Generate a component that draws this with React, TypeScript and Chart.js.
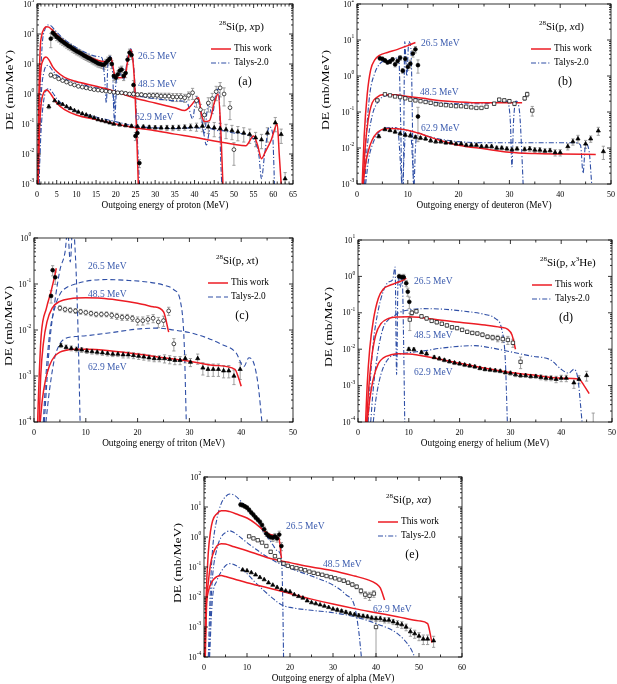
import { useEffect, useRef } from "react";
import { Chart, registerables } from "chart.js";

Chart.register(...registerables);

// each point: [energy (MeV), DE (mb/MeV), relative error]
type Pt = number[];

// ---------- (a) 28Si(p, xp) ----------
const A_EXP_26: Pt[] = [[3.5,70,0.5],[4,110,0.3],[4.5,95,0.25],[5,80,0.25],[5.5,72,0.25],[6,62,0.25],[6.5,56,0.25],[7,50,0.25],[7.5,45,0.25],[8,40,0.25],[8.5,37,0.25],[9,33,0.25],[9.5,30,0.25],[10,27,0.25],[10.5,25,0.25],[11,23,0.25],[11.5,21,0.25],[12,19,0.25],[12.5,17.5,0.25],[13,16,0.25],[13.5,15,0.25],[14,13.5,0.25],[14.5,12.5,0.25],[15,11.5,0.25],[15.5,10.5,0.25],[16,10,0.25],[16.5,9.5,0.25],[17,9.5,0.3],[17.5,11,0.3],[18,13,0.3],[18.5,15,0.3],[19,10,0.3],[19.5,4,0.3],[20,3.5,0.3],[20.5,4.5,0.3],[21,6,0.3],[21.5,6.5,0.3],[22,4,0.3],[22.5,5,0.3],[23,14,0.3],[23.5,24,0.3],[24,20,0.3],[24.5,2,0.4],[25,0.04,0.3],[25.5,0.05,0.3],[26,0.005,0.3]];
const A_EXP_48: Pt[] = [[3.5,4.3,0.15],[4.5,3.8,0.1],[5.5,3.2,0.1],[6.5,2.8,0.1],[7.5,2.5,0.1],[8.5,2.2,0.1],[9.5,2.0,0.1],[10.5,1.8,0.1],[11.5,1.7,0.1],[12.5,1.6,0.1],[13.5,1.5,0.1],[14.5,1.4,0.1],[15.5,1.35,0.1],[16.5,1.3,0.1],[17.5,1.25,0.1],[18.5,1.2,0.1],[19.5,1.15,0.12],[20.5,1.1,0.12],[21.5,1.1,0.12],[22.5,1.05,0.12],[23.5,1.0,0.12],[24.5,1.0,0.15],[25.5,0.95,0.15],[26.5,0.95,0.15],[27.5,0.9,0.15],[28.5,0.9,0.2],[29.5,0.9,0.2],[30.5,0.9,0.2],[31.5,0.85,0.25],[32.5,0.85,0.25],[33.5,0.85,0.25],[34.5,0.8,0.3],[35.5,0.8,0.3],[36.5,0.8,0.3],[37.5,0.75,0.3],[38.5,0.9,0.3],[39.5,1.1,0.4],[40.5,0.6,0.4],[41.5,0.3,0.5],[42.5,0.2,0.5],[43.5,0.5,0.5],[44.5,0.7,0.5],[45.5,1.2,0.5],[46.5,1.6,0.5],[47.5,1.0,0.6],[49,0.35,0.6],[50,0.014,0.7]];
const A_EXP_62: Pt[] = [[3,0.38,0.15],[4.5,0.6,0.1],[5.5,0.5,0.1],[6.5,0.45,0.1],[7.5,0.38,0.1],[8.5,0.33,0.1],[9.5,0.28,0.1],[10.5,0.25,0.1],[11.5,0.22,0.1],[12.5,0.2,0.1],[13.5,0.18,0.1],[14.5,0.16,0.1],[15.5,0.14,0.1],[16.5,0.13,0.1],[17.5,0.12,0.1],[18.5,0.11,0.1],[19.5,0.1,0.1],[21,0.095,0.12],[22.5,0.09,0.12],[24,0.085,0.12],[25.5,0.082,0.12],[27,0.08,0.15],[28.5,0.078,0.15],[30,0.076,0.15],[31.5,0.075,0.15],[33,0.075,0.2],[34.5,0.075,0.2],[36,0.076,0.2],[37.5,0.078,0.2],[39,0.08,0.25],[40.5,0.082,0.3],[42,0.085,0.35],[43.5,0.08,0.4],[45,0.075,0.5],[46.5,0.07,0.5],[48,0.065,0.5],[49.5,0.06,0.5],[51,0.055,0.5],[52.5,0.05,0.5],[54,0.045,0.5],[55.5,0.035,0.5],[57,0.03,0.5],[58.5,0.05,0.5],[60.5,0.11,0.5],[62,0.045,0.5],[63,0.0015,0.6]];
const A_RED_26: Pt[] = [[0.25,0.001],[0.5,1],[0.8,30],[1.2,90],[1.8,150],[2.5,175],[3,170],[4,130],[5,95],[7,55],[10,29],[13,18],[15,14],[17,12],[18,13],[18.8,16],[19.3,8],[19.8,4],[21,3.5],[22.3,3.6],[23,12],[23.8,30],[24.3,15],[24.8,2],[25.3,0.05],[25.8,0.0005]];
const A_BLUE_26: Pt[] = [[0.4,0.001],[0.8,1],[1.3,40],[2,140],[2.8,200],[3.5,190],[5,115],[7,65],[10,35],[13,22],[15,18],[16.5,16],[17.2,3],[17.6,0.5],[18,10],[18.6,18],[19.2,5],[19.6,0.3],[20,2],[21,5],[22,3],[23,15],[23.8,32],[24.5,10],[25,1],[25.5,0.03],[26,0.001]];
const A_RED_48: Pt[] = [[0.25,0.001],[0.5,0.3],[0.9,5],[1.5,13],[2.3,17],[3,14],[4,8],[5,5.6],[7,3.6],[10,2.6],[15,1.8],[20,1.2],[25,0.72],[30,0.5],[35,0.35],[37.5,0.28],[39,0.4],[41,0.75],[41.8,0.2],[42.5,0.12],[43.8,0.13],[45,0.5],[46,1.0],[46.6,0.1],[47.2,0.001]];
const A_BLUE_48: Pt[] = [[0.5,0.001],[1,0.5],[1.7,5],[2.8,9],[4,6],[5,4.3],[7,3.2],[10,2.5],[15,1.6],[19.2,1.2],[19.7,0.12],[20.2,1.2],[25,0.9],[30,0.7],[35,0.6],[38,0.55],[39.5,0.15],[40.5,0.8],[41.5,0.3],[42.5,0.05],[43.5,0.5],[44.5,0.2],[45.5,1.2],[46.2,1.5],[46.6,0.01],[46.9,0.001]];
const A_RED_62: Pt[] = [[0.3,0.001],[0.6,0.05],[1,0.4],[1.7,1.1],[2.5,1.35],[3.5,1.0],[5,0.5],[7,0.3],[10,0.2],[15,0.14],[20,0.1],[25,0.075],[30,0.06],[35,0.046],[40,0.036],[45,0.027],[50,0.021],[53,0.019],[55,0.04],[56,0.02],[57,0.007],[58,0.012],[59.5,0.03],[61,0.1],[61.5,0.01],[62,0.001]];
const A_BLUE_62: Pt[] = [[0.5,0.001],[1,0.05],[1.7,0.6],[3,1.5],[4,1.1],[5,0.7],[7,0.4],[10,0.27],[15,0.17],[20,0.12],[25,0.085],[30,0.075],[35,0.07],[40,0.075],[42,0.07],[43,0.02],[44,0.07],[46,0.06],[47,0.06],[50,0.05],[53,0.045],[55,0.03],[56.3,0.01],[57,0.0015],[57.8,0.01],[59,0.08],[59.8,0.05],[60.3,0.001]];

// ---------- (b) 28Si(p, xd) ----------
const B_EXP_26: Pt[] = [[4.5,3.1,0.1],[5,3.0,0.1],[5.5,2.7,0.12],[6,2.4,0.12],[6.5,2.5,0.12],[7,2.9,0.12],[7.5,2.1,0.15],[8,2.6,0.12],[8.5,3.2,0.15],[9,1.4,0.15],[9.5,3.0,0.15],[10,1.8,0.2],[10.5,2.2,0.25],[11,4.2,0.2],[11.5,5.5,0.2],[12,2.0,0.4],[12,0.075,0.8]];
const B_EXP_48: Pt[] = [[4,0.21,0.08],[5.5,0.31,0.08],[6.5,0.29,0.08],[7.5,0.27,0.08],[8.5,0.26,0.08],[9.5,0.24,0.08],[10.5,0.22,0.08],[11.5,0.21,0.08],[12.5,0.2,0.08],[13.5,0.19,0.08],[14.5,0.18,0.08],[15.5,0.165,0.08],[16.5,0.16,0.08],[17.5,0.155,0.08],[18.5,0.15,0.08],[19.5,0.145,0.08],[20.5,0.145,0.08],[21.5,0.14,0.08],[22.5,0.135,0.08],[23.5,0.13,0.08],[24.5,0.13,0.08],[25.5,0.14,0.08],[27,0.17,0.1],[28,0.22,0.1],[29,0.21,0.1],[30,0.2,0.1],[31,0.17,0.12],[33,0.24,0.12],[33.5,0.31,0.15],[34.5,0.11,0.3]];
const B_EXP_62: Pt[] = [[4.3,0.021,0.1],[5.5,0.033,0.1],[6.5,0.031,0.1],[7.5,0.028,0.1],[8.5,0.025,0.1],[9.5,0.023,0.1],[10.5,0.022,0.1],[11.5,0.02,0.1],[12.5,0.019,0.1],[13.5,0.018,0.1],[14.5,0.016,0.1],[15.5,0.015,0.1],[16.5,0.015,0.1],[17.5,0.014,0.1],[18.5,0.014,0.1],[19.5,0.013,0.1],[20.5,0.013,0.1],[21.5,0.012,0.1],[22.5,0.012,0.1],[23.5,0.012,0.1],[24.5,0.011,0.1],[25.5,0.011,0.1],[26.5,0.011,0.1],[27.5,0.01,0.12],[28.5,0.01,0.12],[29.5,0.0095,0.12],[30.5,0.009,0.12],[31.5,0.0095,0.12],[33,0.0092,0.15],[34,0.0095,0.15],[35,0.0088,0.15],[36,0.0088,0.15],[37,0.0082,0.15],[38,0.0085,0.15],[39,0.0075,0.2],[40,0.0075,0.2],[41.5,0.011,0.2],[42.5,0.015,0.2],[43.5,0.018,0.25],[45,0.013,0.25],[46,0.018,0.2],[47.5,0.03,0.25],[48.5,0.008,0.4]];
const B_RED_26: Pt[] = [[1,0.0008],[1.4,0.02],[2,0.3],[2.7,1.5],[3.5,2.8],[4.5,3.8],[6,4.5],[8,5.5],[10,7],[11.5,8.5]];
const B_BLUE_26: Pt[] = [[1.3,0.001],[1.8,0.02],[2.5,0.3],[3.5,1.2],[4.5,2.2],[6,2.8],[7.5,3],[8.2,3.5],[8.6,0.05],[8.85,0.0008],[9.1,0.001],[9.4,9],[9.8,1],[10.2,9],[10.6,6],[11.1,0.001]];
const B_RED_48: Pt[] = [[1.2,0.001],[1.6,0.01],[2.2,0.06],[3,0.18],[4,0.26],[5,0.3],[7,0.3],[10,0.27],[13,0.24],[16,0.21],[20,0.19],[25,0.18],[30,0.18],[32.5,0.18]];
const B_BLUE_48: Pt[] = [[1.5,0.001],[2,0.01],[3,0.08],[4,0.18],[5.5,0.28],[7.5,0.3],[9,0.28],[10,0.26],[12,0.23],[15,0.19],[20,0.17],[25,0.17],[28,0.19],[29.5,0.2],[30.2,0.05],[30.5,0.003],[30.8,0.05],[31.3,0.2],[32,0.1],[32.4,0.01],[32.7,0.001]];
const B_RED_62: Pt[] = [[1.2,0.001],[1.6,0.003],[2.2,0.008],[3,0.017],[4,0.027],[5,0.033],[6.5,0.035],[8,0.034],[10,0.031],[12,0.026],[14,0.021],[16,0.017],[18,0.014],[20,0.012],[25,0.0095],[30,0.0076],[35,0.007],[40,0.0068],[47,0.0066]];
const B_BLUE_62: Pt[] = [[1.7,0.001],[2.3,0.005],[3,0.012],[4,0.024],[5.5,0.035],[7,0.037],[8,0.035],[8.6,0.003],[8.9,0.0008],[9.2,0.004],[9.6,0.03],[10.5,0.03],[11,0.003],[11.2,0.0008],[11.5,0.01],[12,0.026],[14,0.021],[16,0.018],[20,0.015],[25,0.014],[30,0.014],[35,0.014],[40,0.014],[43,0.014],[44,0.012],[44.5,0.002],[45,0.013],[45.7,0.008],[46.2,0.001]];

// ---------- (c) 28Si(p, xt) ----------
const C_EXP_26: Pt[] = [[3.3,0.055,0.3],[3.6,0.2,0.25],[4.1,0.14,0.3]];
const C_EXP_48: Pt[] = [[5,0.03,0.12],[6,0.028,0.12],[7,0.027,0.12],[8,0.026,0.12],[9,0.025,0.12],[10,0.024,0.12],[11,0.023,0.12],[12,0.022,0.12],[13,0.022,0.12],[14,0.022,0.12],[15,0.021,0.15],[16,0.02,0.15],[17,0.019,0.15],[18,0.019,0.15],[19,0.018,0.15],[20,0.016,0.2],[21,0.016,0.2],[22,0.017,0.2],[23,0.018,0.2],[24,0.015,0.25],[25,0.016,0.25],[26,0.026,0.2],[27,0.005,0.3]];
const C_EXP_62: Pt[] = [[5.2,0.0046,0.1],[6.2,0.0042,0.12],[7.2,0.004,0.12],[8.2,0.0038,0.12],[9.2,0.0037,0.12],[10.2,0.0035,0.12],[11.2,0.0034,0.12],[12.2,0.0033,0.12],[13.2,0.0032,0.12],[14.2,0.0031,0.12],[15.2,0.003,0.12],[16.2,0.003,0.12],[17.2,0.0029,0.15],[18.2,0.0029,0.15],[19.2,0.0028,0.15],[20.2,0.0027,0.15],[21.2,0.0026,0.15],[22.2,0.0025,0.15],[23.2,0.0024,0.15],[24.2,0.0024,0.15],[25.2,0.0024,0.2],[26.2,0.0023,0.2],[27.2,0.0022,0.2],[28.2,0.0022,0.2],[29.2,0.0024,0.2],[30.2,0.002,0.2],[31.6,0.0024,0.25],[32.6,0.0015,0.3],[33.6,0.0014,0.3],[34.6,0.0014,0.3],[35.6,0.0014,0.3],[36.6,0.0013,0.3],[37.6,0.0013,0.3],[38.6,0.001,0.35],[39.8,0.0014,0.4]];
const C_RED_26: Pt[] = [[0.7,0.0001],[1.0,0.001],[1.4,0.008],[2.4,0.03],[3.3,0.07],[4.0,0.15],[4.3,0.22]];
const C_BLUE_26: Pt[] = [[2,0.0001],[2.5,0.0008],[3,0.005],[4,0.04],[5,0.2],[6,0.5],[6.5,1.5],[7,0.3],[7.5,2],[8,0.4],[8.5,0.01],[8.9,0.0001]];
const C_RED_48: Pt[] = [[1,0.0001],[1.3,0.001],[1.8,0.005],[2.5,0.015],[3.5,0.03],[5,0.042],[7,0.048],[10,0.05],[13,0.049],[16,0.045],[20,0.038],[23,0.032],[25,0.025],[26,0.009]];
const C_BLUE_48: Pt[] = [[1.8,0.0001],[2.3,0.001],[3,0.008],[4,0.03],[5,0.06],[6,0.08],[8,0.1],[10,0.115],[14,0.125],[18,0.12],[22,0.11],[25,0.095],[27,0.075],[28.3,0.04],[29,0.005],[29.4,0.0001]];
const C_RED_62: Pt[] = [[1.2,0.0001],[1.6,0.0003],[2.2,0.0008],[3,0.0017],[4,0.0027],[5,0.0033],[6,0.0036],[8,0.0038],[10,0.0038],[15,0.0035],[20,0.003],[25,0.0025],[30,0.0021],[35,0.0017],[38.8,0.0014],[39.5,0.0009],[40,0.0006]];
const C_BLUE_62: Pt[] = [[2.3,0.0001],[3,0.0005],[4,0.0025],[5,0.005],[6,0.0065],[8,0.0072],[10,0.0075],[15,0.0088],[20,0.0105],[24,0.011],[27,0.01],[30,0.0088],[33,0.007],[36,0.005],[39,0.0032],[40.5,0.0016],[41.5,0.0025],[42.5,0.0018],[43.3,0.0006],[44,0.0001]];

// ---------- (d) 28Si(p, x3He) ----------
const D_EXP_26: Pt[] = [[8.1,1.0,0.15],[8.6,0.95,0.15],[9,0.95,0.2],[9.5,0.65,0.2],[9.8,0.38,0.25],[10.1,0.2,0.35]];
const D_EXP_48: Pt[] = [[10.2,0.065,0.5],[10.6,0.1,0.15],[11.5,0.11,0.1],[12.5,0.08,0.1],[13.5,0.07,0.1],[14.5,0.06,0.1],[15.5,0.055,0.1],[16.5,0.05,0.1],[17.5,0.045,0.1],[18.5,0.04,0.1],[19.5,0.038,0.1],[20.5,0.034,0.1],[21.5,0.03,0.1],[22.5,0.028,0.1],[23.5,0.027,0.1],[24.5,0.025,0.12],[25.5,0.022,0.12],[26.5,0.021,0.15],[27.5,0.02,0.2],[28.5,0.019,0.2],[29.5,0.018,0.25],[30.5,0.015,0.25],[32,0.0045,0.35]];
const D_EXP_62: Pt[] = [[10,0.01,0.1],[11,0.0098,0.1],[12.5,0.0082,0.1],[13.5,0.0075,0.1],[15,0.006,0.1],[16,0.0055,0.1],[17,0.005,0.1],[18,0.0046,0.1],[19,0.0042,0.1],[20,0.004,0.1],[21,0.0037,0.1],[22,0.0035,0.1],[23,0.0033,0.1],[24,0.003,0.1],[25,0.0028,0.1],[26,0.0027,0.1],[27,0.0026,0.1],[28,0.0025,0.1],[29,0.0023,0.1],[30,0.0022,0.12],[31,0.002,0.12],[32,0.0019,0.12],[33,0.0019,0.12],[34,0.0018,0.12],[35,0.0018,0.12],[36,0.0017,0.15],[37,0.0016,0.15],[38,0.0016,0.15],[39,0.0015,0.2],[40,0.0016,0.2],[41,0.0016,0.2],[42.5,0.0012,0.3],[43.5,0.0015,0.25],[45,0.0019,0.3],[46.3,0.00008,1.2]];
const D_RED_26: Pt[] = [[1.5,0.0001],[1.8,0.001],[2.3,0.01],[3,0.06],[4,0.25],[5,0.45],[6,0.55],[7,0.62],[8,0.7],[9,0.8],[9.5,0.9]];
const D_BLUE_26: Pt[] = [[2,0.0001],[2.5,0.002],[3,0.015],[4,0.12],[5,0.4],[6,0.7],[6.8,0.8],[7.3,1.8],[7.6,0.002],[7.9,1.0],[8.3,0.5],[8.7,0.9],[9.0,0.01],[9.2,0.0001]];
const D_RED_48: Pt[] = [[1.7,0.0001],[2.1,0.0008],[2.7,0.006],[3.5,0.025],[4.5,0.05],[6,0.07],[8,0.077],[10,0.078],[12,0.075],[15,0.066],[20,0.055],[25,0.046],[28,0.04],[29.5,0.035],[30.3,0.025],[31,0.01]];
const D_BLUE_48: Pt[] = [[2.5,0.0001],[3,0.0008],[4,0.01],[5,0.04],[6,0.065],[7,0.08],[8,0.1],[10,0.12],[13,0.13],[17,0.125],[21,0.11],[25,0.09],[27,0.07],[28.3,0.035],[29,0.005],[29.4,0.0001]];
const D_RED_62: Pt[] = [[1.8,0.0001],[2.3,0.0004],[3,0.0015],[4,0.004],[5,0.0058],[6.5,0.007],[8,0.0075],[10,0.0074],[12,0.0068],[15,0.0057],[20,0.0041],[25,0.003],[30,0.0023],[35,0.0019],[40,0.0016],[43.5,0.0015],[44.5,0.001],[45.5,0.0006]];
const D_BLUE_62: Pt[] = [[3,0.0001],[3.5,0.0004],[4.5,0.002],[6,0.0055],[8,0.0072],[10,0.008],[13,0.009],[16,0.0105],[20,0.012],[23,0.0125],[26,0.011],[30,0.0085],[34,0.0065],[38,0.005],[40,0.0028],[41.5,0.0022],[42.5,0.0028],[43.3,0.0015],[43.8,0.0003],[44.1,0.0001]];

// ---------- (e) 28Si(p, xα) ----------
const E_EXP_26: Pt[] = [[8.5,12,0.15],[9,11.5,0.15],[9.5,10.5,0.15],[10,9.5,0.15],[10.5,8,0.15],[11,6.5,0.15],[11.5,5.5,0.15],[12,4.5,0.15],[12.5,3.8,0.15],[13,3.2,0.15],[13.5,2.5,0.15],[14,1.8,0.2],[14.5,1.3,0.2],[15,1.1,0.2],[15.5,1.0,0.2],[16,0.95,0.25],[16.5,1.05,0.25],[17,0.9,0.25],[17.5,1.2,0.3],[18,0.5,0.3]];
const E_EXP_48: Pt[] = [[10.5,1.05,0.1],[11.5,0.9,0.1],[12.5,0.78,0.1],[13.5,0.65,0.1],[14.5,0.5,0.1],[15.5,0.32,0.12],[16.5,0.23,0.12],[17.5,0.17,0.12],[18.5,0.13,0.12],[19.5,0.11,0.1],[20.5,0.098,0.1],[21.5,0.092,0.1],[22.5,0.085,0.1],[23.5,0.078,0.1],[24.5,0.07,0.1],[25.5,0.064,0.1],[26.5,0.059,0.1],[27.5,0.055,0.1],[28.5,0.05,0.1],[29.5,0.046,0.1],[30.5,0.042,0.1],[31.5,0.038,0.1],[32.5,0.035,0.12],[33.5,0.03,0.12],[34.5,0.026,0.15],[35.5,0.022,0.15],[36.5,0.016,0.2],[37.5,0.012,0.25],[38.5,0.011,0.3],[39.5,0.013,0.25],[40,0.001,0.9]];
const E_EXP_62: Pt[] = [[9,0.08,0.1],[10,0.075,0.1],[11,0.065,0.1],[12,0.055,0.1],[13,0.045,0.1],[14,0.038,0.1],[15,0.03,0.1],[16,0.025,0.1],[17,0.021,0.1],[18,0.018,0.1],[19,0.016,0.1],[20,0.015,0.1],[21,0.012,0.1],[22,0.0105,0.1],[23,0.0093,0.1],[24,0.0075,0.1],[25,0.0065,0.1],[26,0.006,0.1],[27,0.0055,0.1],[28,0.005,0.1],[29,0.0045,0.1],[30,0.004,0.1],[31,0.0037,0.12],[32,0.0034,0.12],[33,0.0031,0.12],[34,0.0028,0.12],[35,0.0026,0.12],[36,0.0024,0.15],[37,0.0023,0.15],[38,0.0022,0.15],[39,0.002,0.15],[40,0.0019,0.2],[41,0.0019,0.2],[42,0.0017,0.2],[43,0.0017,0.2],[44,0.0015,0.2],[45,0.0013,0.25],[46,0.0012,0.25],[47,0.001,0.25],[48,0.0007,0.3],[49,0.0006,0.3],[50,0.0005,0.3],[51,0.0004,0.35],[52,0.0004,0.35],[53.4,0.00035,0.4]];
const E_RED_26: Pt[] = [[0.2,0.0001],[0.5,0.01],[1,0.3],[1.5,1.5],[2,3.5],[3,6],[4,7.5],[5,7.5],[6,7],[8,5.5],[10,4.3],[12,2.8],[14,1.6],[15,1.3],[16,1.15],[17,1.0],[17.5,0.8],[18,0.2]];
const E_BLUE_26: Pt[] = [[1,0.0001],[1.5,0.02],[2,0.4],[3,4],[4,13],[5,22],[6,27],[7,25],[8,19],[10,9],[12,4.5],[13,2.5],[14,1.3],[15,0.9],[16,0.55],[17,0.35],[18,0.2],[18.3,0.01],[18.5,0.0001]];
const E_RED_48: Pt[] = [[0.2,0.0001],[0.5,0.005],[1,0.03],[1.5,0.12],[2,0.25],[3,0.5],[4,0.6],[5,0.58],[7,0.47],[10,0.35],[13,0.25],[15,0.2],[18,0.16],[20,0.14],[25,0.1],[30,0.075],[35,0.05],[38,0.038],[40,0.028],[41,0.02],[42,0.008]];
const E_BLUE_48: Pt[] = [[1.2,0.0001],[1.6,0.005],[2,0.05],[3,0.4],[4,1.0],[5,1.4],[6,1.6],[7,1.4],[8,1.1],[10,0.65],[12,0.4],[14,0.25],[16,0.17],[18,0.12],[20,0.09],[25,0.05],[30,0.025],[33,0.012],[35,0.005],[36,0.0007],[36.6,0.0001]];
const E_RED_62: Pt[] = [[0.3,0.0001],[0.6,0.005],[1,0.015],[2,0.035],[3,0.048],[4,0.052],[5,0.048],[7,0.04],[10,0.03],[15,0.02],[20,0.013],[25,0.0085],[30,0.0058],[35,0.0041],[40,0.003],[45,0.0022],[50,0.0016],[52,0.0013],[52.6,0.0006],[53,0.0003]];
const E_BLUE_62: Pt[] = [[1.3,0.0001],[1.7,0.002],[2,0.01],[3,0.035],[4,0.07],[5,0.11],[6,0.13],[7,0.12],[8,0.1],[10,0.06],[12,0.03],[14,0.016],[16,0.009],[18,0.0055],[20,0.0045],[25,0.0036],[30,0.003],[35,0.0022],[40,0.0013],[45,0.0006],[48,0.0002],[49,0.0001]];

const ENERGIES = ["26.5 MeV", "48.5 MeV", "62.9 MeV"];

const RED = "#ec1c24";
const BLUE = "#2f4fa6";
const LABEL_BLUE = "#3c5cae";
const ERR_GREY = "#959595";
const FONT = "'Liberation Serif', 'Times New Roman', serif";

// room around the plot box inside each canvas
const PAD_L = 44;
const PAD_T = 8;
const PAD_R = 10;
const PAD_B = 30;

type Seg = { t: string; sup?: boolean; it?: boolean };
type Marker = "dot" | "ring" | "square" | "tri";

interface PanelCfg {
  box: number[]; // plot box on the page: left, top, right, bottom
  xMax: number;
  xStep: number;
  xMinor: number;
  yMinExp: number;
  yMaxExp: number;
  xTitle: string;
  reaction: Seg[];
  letter: string;
  exp: Pt[][];
  red: Pt[][];
  blue: Pt[][];
  markers: Marker[];
  talysDash: number[];
  labelPos: number[][];
  yTitleDx: number;
}

const DASH_DOT = [5, 2, 1.2, 2];

const PANELS: PanelCfg[] = [
  {
    box: [37, 4, 293, 184], xMax: 65, xStep: 5, xMinor: 1, yMinExp: -3, yMaxExp: 3,
    xTitle: "Outgoing energy of proton (MeV)",
    reaction: [{ t: "28", sup: true }, { t: "Si(p, " }, { t: "x", it: true }, { t: "p)" }],
    letter: "(a)",
    exp: [A_EXP_26, A_EXP_48, A_EXP_62], red: [A_RED_26, A_RED_48, A_RED_62], blue: [A_BLUE_26, A_BLUE_48, A_BLUE_62],
    markers: ["dot", "ring", "tri"], talysDash: DASH_DOT,
    labelPos: [[101, 52], [101, 80], [98, 113]], yTitleDx: -27,
  },
  {
    box: [357, 4, 611, 184], xMax: 50, xStep: 10, xMinor: 5, yMinExp: -3, yMaxExp: 2,
    xTitle: "Outgoing energy of deuteron (MeV)",
    reaction: [{ t: "28", sup: true }, { t: "Si(p, " }, { t: "x", it: true }, { t: "d)" }],
    letter: "(b)",
    exp: [B_EXP_26, B_EXP_48, B_EXP_62], red: [B_RED_26, B_RED_48, B_RED_62], blue: [B_BLUE_26, B_BLUE_48, B_BLUE_62],
    markers: ["dot", "square", "tri"], talysDash: DASH_DOT,
    labelPos: [[64, 39], [63, 88], [64, 124]], yTitleDx: -31,
  },
  {
    box: [34, 238, 293, 422], xMax: 50, xStep: 10, xMinor: 5, yMinExp: -4, yMaxExp: 0,
    xTitle: "Outgoing energy of triton (MeV)",
    reaction: [{ t: "28", sup: true }, { t: "Si(p, " }, { t: "x", it: true }, { t: "t)" }],
    letter: "(c)",
    exp: [C_EXP_26, C_EXP_48, C_EXP_62], red: [C_RED_26, C_RED_48, C_RED_62], blue: [C_BLUE_26, C_BLUE_48, C_BLUE_62],
    markers: ["dot", "ring", "tri"], talysDash: [5, 3],
    labelPos: [[54, 28], [54, 56], [54, 129]], yTitleDx: -25,
  },
  {
    box: [358, 240, 612, 422], xMax: 50, xStep: 10, xMinor: 5, yMinExp: -4, yMaxExp: 1,
    xTitle: "Outgoing energy of helium (MeV)",
    reaction: [{ t: "28", sup: true }, { t: "Si(p, " }, { t: "x", it: true }, { t: "3", sup: true }, { t: "He)" }],
    letter: "(d)",
    exp: [D_EXP_26, D_EXP_48, D_EXP_62], red: [D_RED_26, D_RED_48, D_RED_62], blue: [D_BLUE_26, D_BLUE_48, D_BLUE_62],
    markers: ["dot", "square", "tri"], talysDash: DASH_DOT,
    labelPos: [[56, 41], [56, 95], [56, 132]], yTitleDx: -29,
  },
  {
    box: [204, 477, 462, 657], xMax: 60, xStep: 10, xMinor: 5, yMinExp: -4, yMaxExp: 2,
    xTitle: "Outgoing energy of alpha (MeV)",
    reaction: [{ t: "28", sup: true }, { t: "Si(p, " }, { t: "x\u03b1", it: true }, { t: ")" }],
    letter: "(e)",
    exp: [E_EXP_26, E_EXP_48, E_EXP_62], red: [E_RED_26, E_RED_48, E_RED_62], blue: [E_BLUE_26, E_BLUE_48, E_BLUE_62],
    markers: ["dot", "square", "tri"], talysDash: DASH_DOT,
    labelPos: [[82, 49], [119, 87], [169, 132]], yTitleDx: -26,
  },
];

function markerStyle(m: Marker) {
  const filled = m === "dot" || m === "tri";
  return {
    pointStyle: m === "square" ? "rect" : m === "tri" ? "triangle" : "circle",
    pointRadius: m === "tri" ? 2.4 : m === "square" ? 2.4 : 1.9,
    pointBackgroundColor: filled ? "#000" : "#fff",
    pointBorderColor: "#000",
    pointBorderWidth: 0.7,
  };
}

function toXY(p: Pt[]) {
  return p.map(([x, y]) => ({ x, y }));
}

function drawPow(ctx: CanvasRenderingContext2D, e: number, xr: number, y: number) {
  ctx.font = `8px ${FONT}`;
  const wb = ctx.measureText("10").width;
  ctx.font = `5.5px ${FONT}`;
  const es = String(e);
  const we = ctx.measureText(es).width;
  const x0 = xr - wb - we;
  ctx.textAlign = "left";
  ctx.textBaseline = "middle";
  ctx.font = `8px ${FONT}`;
  ctx.fillText("10", x0, y + 0.5);
  ctx.font = `5.5px ${FONT}`;
  ctx.fillText(es, x0 + wb + 0.3, y - 3);
}

function drawReaction(ctx: CanvasRenderingContext2D, segs: Seg[], x: number, y: number) {
  let cx = x;
  ctx.textAlign = "left";
  ctx.textBaseline = "middle";
  ctx.fillStyle = "#000";
  for (const s of segs) {
    const size = s.sup ? 7 : 11;
    ctx.font = `${s.it ? "italic " : ""}${size}px ${FONT}`;
    ctx.fillText(s.t, cx, s.sup ? y - 4 : y);
    cx += ctx.measureText(s.t).width;
  }
}

function Panel({ cfg }: { cfg: PanelCfg }) {
  const ref = useRef<HTMLCanvasElement | null>(null);
  const [l, t, r, b] = cfg.box;

  useEffect(() => {
    if (!ref.current) return;

    const deco = {
      id: "deco",
      beforeDatasetsDraw(chart: any) {
        const { ctx, chartArea: ca } = chart;
        const xs = chart.scales.x;
        const ys = chart.scales.y;
        ctx.save();
        ctx.beginPath();
        ctx.rect(ca.left, ca.top, ca.right - ca.left, ca.bottom - ca.top);
        ctx.clip();
        ctx.strokeStyle = ERR_GREY;
        ctx.lineWidth = 0.9;
        cfg.exp.forEach((series) =>
          series.forEach(([x, y, e]) => {
            const px = xs.getPixelForValue(x);
            const hi = ys.getPixelForValue(y * (1 + e));
            const lo = e >= 1 ? ca.bottom + 5 : ys.getPixelForValue(y * (1 - e));
            if (lo - hi < 3) return;
            ctx.beginPath();
            ctx.moveTo(px, lo);
            ctx.lineTo(px, hi);
            ctx.moveTo(px - 1.6, lo);
            ctx.lineTo(px + 1.6, lo);
            ctx.moveTo(px - 1.6, hi);
            ctx.lineTo(px + 1.6, hi);
            ctx.stroke();
          })
        );
        ctx.restore();
      },
      afterDraw(chart: any) {
        const { ctx, chartArea: ca } = chart;
        const xs = chart.scales.x;
        const ys = chart.scales.y;
        ctx.save();
        // frame and inward ticks
        ctx.strokeStyle = "#000";
        ctx.lineWidth = 0.8;
        ctx.strokeRect(ca.left, ca.top, ca.right - ca.left, ca.bottom - ca.top);
        ctx.beginPath();
        for (let v = 0; v <= cfg.xMax + 1e-9; v += cfg.xMinor) {
          const px = xs.getPixelForValue(v);
          const q = v / cfg.xStep;
          const len = Math.abs(q - Math.round(q)) < 1e-6 ? 4 : 2.5;
          ctx.moveTo(px, ca.bottom);
          ctx.lineTo(px, ca.bottom - len);
          ctx.moveTo(px, ca.top);
          ctx.lineTo(px, ca.top + len);
        }
        for (let e = cfg.yMinExp; e <= cfg.yMaxExp; e++) {
          for (let k = 1; k <= 9; k++) {
            if (e === cfg.yMaxExp && k > 1) break;
            const py = ys.getPixelForValue(k * Math.pow(10, e));
            const len = k === 1 ? 4 : 2;
            ctx.moveTo(ca.left, py);
            ctx.lineTo(ca.left + len, py);
            ctx.moveTo(ca.right, py);
            ctx.lineTo(ca.right - len, py);
          }
        }
        ctx.stroke();

        // tick labels
        ctx.fillStyle = "#000";
        ctx.font = `8px ${FONT}`;
        ctx.textAlign = "center";
        ctx.textBaseline = "top";
        for (let v = 0; v <= cfg.xMax + 1e-9; v += cfg.xStep) {
          ctx.fillText(String(v), xs.getPixelForValue(v), ca.bottom + 7);
        }
        for (let e = cfg.yMinExp; e <= cfg.yMaxExp; e++) {
          drawPow(ctx, e, ca.left - 3, ys.getPixelForValue(Math.pow(10, e)));
        }

        // axis titles
        ctx.font = `9.3px ${FONT}`;
        ctx.textAlign = "center";
        ctx.textBaseline = "middle";
        ctx.fillText(cfg.xTitle, (ca.left + ca.right) / 2, ca.bottom + 22);
        ctx.save();
        ctx.translate(ca.left + cfg.yTitleDx, (ca.top + ca.bottom) / 2 - 4);
        ctx.rotate(-Math.PI / 2);
        ctx.font = `11px ${FONT}`;
        const tw = ctx.measureText("DE (mb/MeV)").width;
        ctx.scale(80 / tw, 1);
        ctx.fillText("DE (mb/MeV)", 0, 0);
        ctx.restore();

        // reaction, legend and panel letter
        drawReaction(ctx, cfg.reaction, ca.left + 182, ca.top + 23);
        const lx = ca.left + 174;
        const ly = ca.top + 45;
        ctx.lineWidth = 1.5;
        ctx.strokeStyle = RED;
        ctx.setLineDash([]);
        ctx.beginPath();
        ctx.moveTo(lx, ly);
        ctx.lineTo(lx + 20, ly);
        ctx.stroke();
        ctx.lineWidth = 1.1;
        ctx.strokeStyle = BLUE;
        ctx.setLineDash(cfg.talysDash);
        ctx.beginPath();
        ctx.moveTo(lx, ly + 14);
        ctx.lineTo(lx + 20, ly + 14);
        ctx.stroke();
        ctx.setLineDash([]);
        ctx.fillStyle = "#000";
        ctx.font = `9.3px ${FONT}`;
        ctx.textAlign = "left";
        ctx.fillText("This work", lx + 23, ly);
        ctx.fillText("Talys-2.0", lx + 23, ly + 14);
        ctx.font = `12px ${FONT}`;
        ctx.textAlign = "center";
        ctx.fillText(cfg.letter, ca.left + 208, ca.top + 78);

        // incident-energy labels
        ctx.fillStyle = LABEL_BLUE;
        ctx.font = `9.5px ${FONT}`;
        ctx.textAlign = "left";
        cfg.labelPos.forEach(([dx, dy], i) => {
          ctx.fillText(ENERGIES[i], ca.left + dx, ca.top + dy);
        });
        ctx.restore();
      },
    };

    const datasets: any[] = [];
    cfg.exp.forEach((s, i) =>
      datasets.push({ data: toXY(s), showLine: false, order: 0, ...markerStyle(cfg.markers[i]) })
    );
    cfg.red.forEach((s) =>
      datasets.push({
        data: toXY(s), showLine: true, order: 1, pointRadius: 0, borderColor: RED, borderWidth: 1.5,
        cubicInterpolationMode: "monotone",
      })
    );
    cfg.blue.forEach((s) =>
      datasets.push({
        data: toXY(s), showLine: true, order: 2, pointRadius: 0, borderColor: BLUE, borderWidth: 1.1,
        borderDash: cfg.talysDash, cubicInterpolationMode: "monotone",
      })
    );

    const chart = new Chart(ref.current, {
      type: "scatter",
      data: { datasets },
      options: {
        animation: false,
        responsive: true,
        maintainAspectRatio: false,
        layout: { padding: { left: PAD_L, top: PAD_T, right: PAD_R, bottom: PAD_B } },
        plugins: { legend: { display: false }, tooltip: { enabled: false } },
        events: [],
        scales: {
          x: { type: "linear", min: 0, max: cfg.xMax, display: false },
          y: { type: "logarithmic", min: Math.pow(10, cfg.yMinExp), max: Math.pow(10, cfg.yMaxExp), display: false },
        },
      },
      plugins: [deco],
    } as any);

    return () => chart.destroy();
  }, [cfg]);

  return (
    <div
      style={{
        position: "absolute",
        left: l - PAD_L,
        top: t - PAD_T,
        width: r - l + PAD_L + PAD_R,
        height: b - t + PAD_T + PAD_B,
      }}
    >
      <canvas ref={ref} />
    </div>
  );
}

export default function App() {
  return (
    <div style={{ position: "absolute", left: 0, top: 0, width: 617, height: 684, background: "#fff", overflow: "hidden" }}>
      {PANELS.map((p) => (
        <Panel key={p.letter} cfg={p} />
      ))}
    </div>
  );
}
